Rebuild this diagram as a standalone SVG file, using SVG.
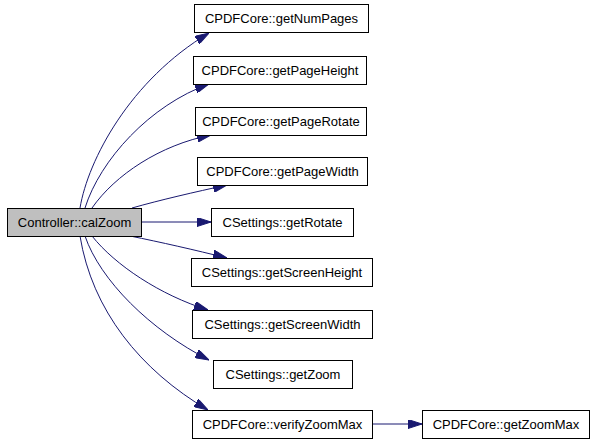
<svg xmlns="http://www.w3.org/2000/svg" width="595" height="443" viewBox="0 0 595 443">
<style>
.n rect{fill:#ffffff;stroke:#000000;stroke-width:1}
.n.root rect{fill:#bfbfbf}
.n text{font-family:"Liberation Sans",Arial,sans-serif;font-size:13px;fill:#000000;text-anchor:middle}
.e path{fill:none;stroke:#191970;stroke-width:1}
</style>
<defs>
<marker id="ah" markerUnits="userSpaceOnUse" markerWidth="14" markerHeight="9" refX="14" refY="4.5" orient="auto" viewBox="0 0 14 9">
<path d="M0,0 L14,4.5 L0,9 z" fill="#191970" stroke="#191970" stroke-width="1"/>
</marker>
</defs>
<rect width="595" height="443" fill="#ffffff"/>
<g id="edges" class="e">
<path d="M80,208 C88,160 130,80 209,33" marker-end="url(#ah)"/>
<path d="M85,208 C100,160 150,105 209,84" marker-end="url(#ah)"/>
<path d="M92,208 C115,175 160,145 211,135" marker-end="url(#ah)"/>
<path d="M132,208 C160,200 195,192 227,185" marker-end="url(#ah)"/>
<path d="M141,222 L211,222" marker-end="url(#ah)"/>
<path d="M130,236 C160,242 195,250 227,258" marker-end="url(#ah)"/>
<path d="M92,236 C115,265 160,295 208,310" marker-end="url(#ah)"/>
<path d="M85,236 C100,280 150,330 209,360" marker-end="url(#ah)"/>
<path d="M80,236 C92,310 140,370 208,410" marker-end="url(#ah)"/>
<path d="M372,424 L422,424" marker-end="url(#ah)"/>
</g>
<g id="calZoom" class="n root"><rect x="7.5" y="208.5" width="134" height="28"/><text x="74.5" y="227">Controller::calZoom</text></g>
<g id="getNumPages" class="n"><rect x="194.5" y="4.5" width="174" height="28"/><text x="281.5" y="23">CPDFCore::getNumPages</text></g>
<g id="getPageHeight" class="n"><rect x="193.5" y="56.5" width="173" height="28"/><text x="280" y="75">CPDFCore::getPageHeight</text></g>
<g id="getPageRotate" class="n"><rect x="195.5" y="107.5" width="171" height="28"/><text x="281" y="126">CPDFCore::getPageRotate</text></g>
<g id="getPageWidth" class="n"><rect x="197.5" y="157.5" width="170" height="28"/><text x="282.5" y="176">CPDFCore::getPageWidth</text></g>
<g id="getRotate" class="n"><rect x="211.5" y="208.5" width="142" height="28"/><text x="282.5" y="227">CSettings::getRotate</text></g>
<g id="getScreenHeight" class="n"><rect x="191.5" y="258.5" width="181" height="28"/><text x="282" y="277">CSettings::getScreenHeight</text></g>
<g id="getScreenWidth" class="n"><rect x="192.5" y="310.5" width="180" height="28"/><text x="282.5" y="329">CSettings::getScreenWidth</text></g>
<g id="getZoom" class="n"><rect x="213.5" y="360.5" width="139" height="28"/><text x="283" y="379">CSettings::getZoom</text></g>
<g id="verifyZoomMax" class="n"><rect x="192.5" y="410.5" width="180" height="28"/><text x="282.5" y="429">CPDFCore::verifyZoomMax</text></g>
<g id="getZoomMax" class="n"><rect x="422.5" y="410.5" width="167" height="28"/><text x="506" y="429">CPDFCore::getZoomMax</text></g>
</svg>
